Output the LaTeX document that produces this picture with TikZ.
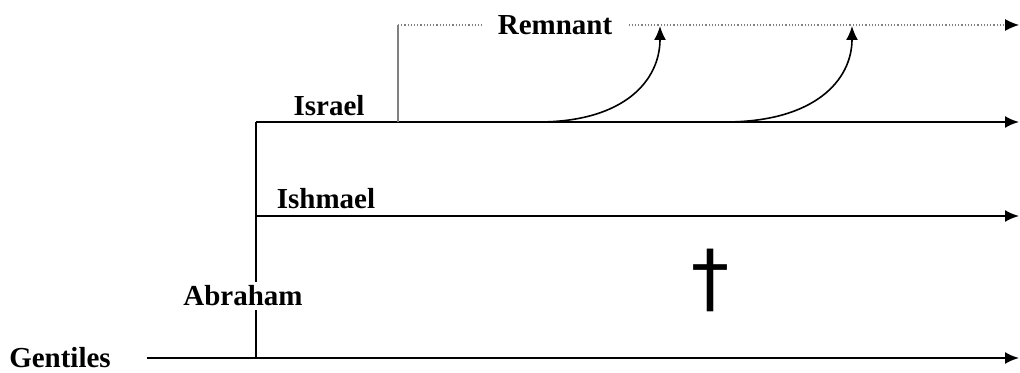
\documentclass[tikz,border=0pt]{standalone}
\usepackage{fontspec}
\setmainfont{Liberation Serif}
\newfontfamily\crossfont{DejaVu Sans}
\usetikzlibrary{arrows.meta}
\begin{document}
\begin{tikzpicture}[x=0.5pt,y=-0.5pt,
    lbl/.style={font=\fontsize{14.5}{16}\selectfont\bfseries, inner sep=1pt},
    line/.style={line width=1pt, -{Latex[length=7pt,width=6pt]}},
    rem/.style={gray, line width=0.6pt},
    risearrow/.style={line width=0.8pt, -{Latex[length=7pt,width=6pt]}}]
  \useasboundingbox (0,0) rectangle (1020,373);

  % lines of descent
  \coordinate (gstart) at (147,358);
  \coordinate (gjoin) at (256,358);
  \coordinate (gend) at (1019,358);
  \coordinate (isr) at (256,122);
  \coordinate (isrend) at (1019,122);
  \coordinate (ish) at (256,216);
  \coordinate (ishend) at (1019,216);

  \draw[line] (gstart) -- (gend);
  \draw[line width=1pt] (gjoin) -- (isr);
  \draw[line] (isr) -- (isrend);
  \draw[line] (ish) -- (ishend);

  \node[lbl] (gentiles) at (60,358) {Gentiles};
  \node[lbl, fill=white, inner sep=2pt] (abraham) at (243,296) {Abraham};
  \node[lbl] (israel) at (329,106) {Israel};
  \node[lbl] (ishmael) at (326,199) {Ishmael};

  % remnant
  \coordinate (rbase) at (398,122);
  \coordinate (rend) at (1019,25);
  \node[lbl, inner sep=8pt] (remnant) at (555,25) {Remnant};
  \draw[rem] (rbase) -- (rbase |- remnant.west);
  \draw[rem, densely dotted] (rbase |- remnant.west) -- (remnant.west);
  \draw[rem, densely dotted, -{Latex[length=7pt,width=6pt,black]}] (remnant.east) -- (rend);

  \coordinate (c1s) at (538,122);
  \coordinate (c1e) at (660,26);
  \coordinate (c2s) at (725,122);
  \coordinate (c2e) at (852,26);
  \draw[risearrow] (c1s) .. controls (625,122) and (660,80) .. (c1e);
  \draw[risearrow] (c2s) .. controls (815,122) and (852,80) .. (c2e);

  % cross
  \node[font=\crossfont\fontsize{38}{38}\selectfont] (cross) at (710,280) {†};
\end{tikzpicture}
\end{document}
